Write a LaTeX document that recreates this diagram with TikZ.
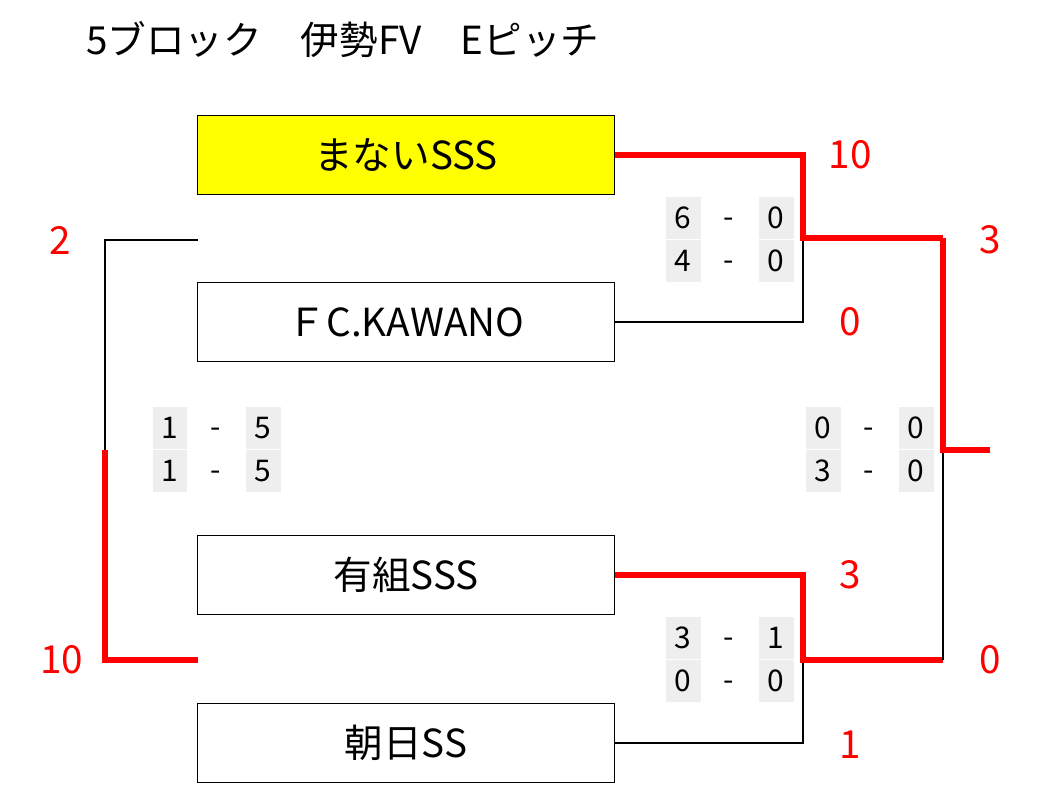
\documentclass[tikz,border=0pt]{standalone}
\usepackage{fontspec}
\setmainfont{Noto Sans CJK JP}
\usetikzlibrary{positioning}
\definecolor{winred}{RGB}{255,0,0}
\definecolor{teamyellow}{RGB}{255,255,0}
\definecolor{scoregray}{RGB}{238,238,238}
\tikzset{
  team/.style={rectangle, draw=black, thick, minimum width=8.34cm, minimum height=1.58cm, font=\fontsize{22}{24}\selectfont},
  win/.style={draw=winred, line width=3pt},
  lose/.style={draw=black, line width=0.8pt},
  pts/.style={text=winred, font=\fontsize{22}{24}\selectfont},
  cell/.style={fill=scoregray, minimum width=0.7cm, minimum height=0.85cm, inner sep=0pt, font=\fontsize{17}{18}\selectfont},
  hyphen/.style={font=\fontsize{17}{18}\selectfont}
}
\begin{document}
\begin{tikzpicture}[x=0.02cm, y=-0.02cm]
\useasboundingbox (0,0) rectangle (1037,805);
% title
\node[anchor=west, font=\fontsize{22}{24}\selectfont] (title) at (80,40) {5ブロック\quad 伊勢FV\quad Eピッチ};

% teams
\node[team, fill=teamyellow] (manai) at (406,155) {まないSSS};
\node[team] (kawano) at (406,322) {ＦC.KAWANO};
\node[team] (arigumi) at (406,575) {有組SSS};
\node[team] (asahi) at (406,743) {朝日SS};

% junction points
\coordinate (m1) at (803,155);
\coordinate (k1) at (803,322);
\coordinate (j1) at (803,238);
\coordinate (r1) at (943,238);
\coordinate (a1) at (803,575);
\coordinate (s1) at (803,743);
\coordinate (j2) at (803,660);
\coordinate (r2) at (943,660);
\coordinate (fin) at (943,450);
\coordinate (finend) at (990,450);
\coordinate (l1) at (198,240);
\coordinate (l2) at (105,240);
\coordinate (l3) at (105,450);
\coordinate (l4) at (105,660);
\coordinate (l5) at (198,660);

% first round
\draw[lose] (kawano.east) -- (k1) -- (j1);
\draw[win] (manai.east) -- (m1) -- (j1) -- (r1);
\draw[lose] (asahi.east) -- (s1) -- (j2);
\draw[win] (arigumi.east) -- (a1) -- (j2) -- (r2);
% final
\draw[lose] (fin) -- (r2);
\draw[win] (r1) -- (fin) -- (finend);
% third place
\draw[lose] (l1) -- (l2) -- (l3);
\draw[win] (l3) -- (l4) -- (l5);

% points
\node[pts] (p1) at (850,155) {10};
\node[pts] (p2) at (850,322) {0};
\node[pts] (p3) at (990,240) {3};
\node[pts] (p4) at (850,575) {3};
\node[pts] (p5) at (850,745) {1};
\node[pts] (p6) at (990,660) {0};
\node[pts] (p7) at (60,240) {2};
\node[pts] (p8) at (62,660) {10};

% scores
\foreach \cx/\cy/\a/\b/\c/\d in {683/218/6/4/0/0, 683/638/3/0/1/0, 823/428/0/3/0/0, 170/428/1/1/5/5}{
  \node[cell] at (\cx,\cy) {\a};
  \node[cell] at (\cx,\cy+43) {\b};
  \node[hyphen] at (\cx+46,\cy+5) {-};
  \node[hyphen] at (\cx+46,\cy+48) {-};
  \node[cell] at (\cx+93,\cy) {\c};
  \node[cell] at (\cx+93,\cy+43) {\d};
}
\end{tikzpicture}
\end{document}
